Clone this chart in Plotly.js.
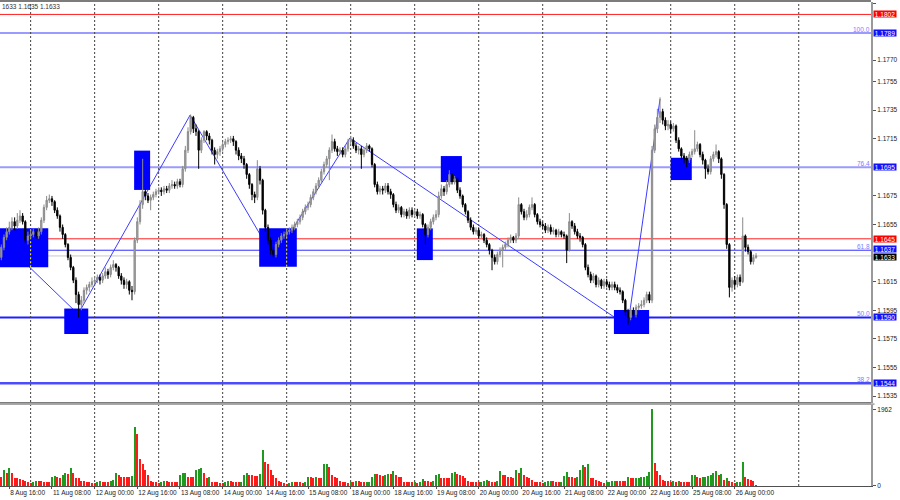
<!DOCTYPE html>
<html><head><meta charset="utf-8">
<script src="https://cdn.plot.ly/plotly-3.0.1.min.js"></script>
<style>html,body{margin:0;padding:0;background:#fff}#chart{width:900px;height:500px}</style>
</head><body><div id="chart"></div>
<script>
// EURUSD H1, bars from 8 Aug 13:00 (server time), weekends skipped.
// Prices stored in pips above BASE (1.1500).
const BASE = 1.15;
const firstBar = '2025-08-08T13:00';
const opens = [
132,139,146,150,153,157,154,158,161,157,144,
147,148,150,147,150,158,167,172,173,171,165,161,153,148,141,132,125,116,106,99,102,109,111,113,
115,116,118,116,119,122,120,125,127,125,119,116,113,115,109,108,144,157,169,178,175,172,174,176,
178,179,178,180,179,182,183,182,185,183,194,207,220,230,222,220,207,214,220,217,214,207,204,206,
208,211,213,214,215,213,207,203,201,197,190,183,176,174,194,186,165,153,144,137,134,141,144,147,
148,150,151,153,155,157,160,164,167,169,174,178,182,186,192,197,201,207,213,208,206,207,204,208,
213,214,210,207,208,204,207,210,208,197,183,178,180,179,182,178,176,169,165,167,162,164,161,165,
162,164,161,162,155,148,153,157,160,162,175,180,178,183,190,185,187,179,175,169,164,158,153,150,
151,147,148,144,141,137,132,129,134,137,139,141,144,146,144,147,169,164,160,162,167,169,162,157,
155,154,151,153,150,151,148,150,148,147,137,157,154,150,147,146,141,125,120,116,119,113,116,112,
115,113,111,113,111,109,108,102,94,90,95,92,97,98,99,102,106,102,207,222,230,234,228,224,
225,222,224,214,208,203,201,200,204,206,208,211,204,200,194,192,201,204,206,201,190,169,141,111,
116,113,118,115,147,139,136,129,132];
const highs = [
141,148,153,157,160,160,163,165,163,158,150,
151,152,152,153,160,169,175,176,175,172,167,162,155,149,142,134,126,118,108,105,111,113,115,118,
119,120,120,121,125,124,127,130,128,126,121,118,117,116,112,146,160,172,201,180,177,176,178,180,
181,181,182,182,184,186,185,187,187,196,210,223,232,231,225,221,216,221,221,219,215,209,208,210,
213,215,216,217,217,214,209,205,203,198,191,184,178,200,196,187,166,155,146,139,143,146,149,150,
152,153,155,157,159,162,166,169,171,176,180,184,188,194,199,203,209,218,215,210,209,209,210,215,
217,216,212,210,210,209,212,211,209,198,185,182,182,184,184,180,177,171,169,168,166,166,167,167,
166,166,164,163,156,155,159,162,165,178,183,182,186,193,191,189,188,181,176,170,165,160,155,153,
153,150,149,146,142,138,134,136,139,141,143,146,148,147,149,174,170,166,165,169,174,170,163,159,
157,156,155,155,153,152,152,151,150,148,163,158,156,152,149,147,142,127,122,121,120,118,117,117,
117,115,115,115,113,111,109,103,96,97,97,99,100,102,104,108,108,210,225,236,244,236,230,228,
227,226,225,216,209,205,203,206,208,221,213,212,206,201,197,203,206,211,207,202,191,170,142,118,
119,120,120,160,148,141,137,134,135];
const lows = [
130,137,144,148,151,151,152,156,155,142,141,
145,146,145,145,148,156,165,170,168,163,159,150,145,139,130,123,114,100,90,95,100,106,108,111,
113,114,113,114,117,117,118,123,122,117,113,110,110,106,102,106,142,155,166,172,170,165,172,174,
176,175,176,177,177,180,180,180,181,181,192,205,218,219,217,194,205,212,214,211,204,197,201,203,
206,209,211,212,210,204,200,198,194,187,180,172,170,172,183,162,150,141,134,132,132,139,142,145,
146,148,149,151,153,155,158,162,165,167,172,176,180,184,190,195,186,205,206,203,204,202,202,206,
211,208,205,204,194,202,205,206,195,181,176,176,176,177,176,173,167,163,163,160,160,159,159,160,
160,159,159,153,141,146,151,155,158,160,173,175,176,181,183,183,177,173,167,162,156,151,148,148,
145,145,142,139,134,123,127,127,132,125,137,139,142,142,142,145,162,158,158,160,165,160,155,153,
152,149,149,148,148,146,146,146,145,128,136,152,148,145,143,139,123,118,114,114,111,111,110,110,
111,109,109,109,107,106,100,91,85,88,89,90,95,96,97,100,100,100,205,219,226,225,221,221,
219,220,212,206,200,198,195,198,202,204,206,202,197,187,190,190,199,202,198,187,166,138,104,108,
110,111,112,114,136,134,127,127,131];
const closes = [
139,146,150,153,157,154,158,161,157,144,147,
148,150,147,150,158,167,172,173,171,165,161,153,148,141,132,125,116,106,99,102,109,111,113,115,
116,118,116,119,122,120,125,127,125,119,116,113,115,109,108,144,157,169,178,175,172,174,176,178,
179,178,180,179,182,183,182,185,183,194,207,220,230,222,220,207,214,220,217,214,207,204,206,208,
211,213,214,215,213,207,203,201,197,190,183,176,174,194,186,165,153,144,137,134,141,144,147,148,
150,151,153,155,157,160,164,167,169,174,178,182,186,192,197,201,207,213,208,206,207,204,208,213,
214,210,207,208,204,207,210,208,197,183,178,180,179,182,178,176,169,165,167,162,164,161,165,162,
164,161,162,155,148,153,157,160,162,175,180,178,183,190,185,187,179,175,169,164,158,153,150,151,
147,148,144,141,137,132,129,134,137,139,141,144,146,144,147,169,164,160,162,167,169,162,157,155,
154,151,153,150,151,148,150,148,147,137,157,154,150,147,146,141,125,120,116,119,113,116,112,115,
113,111,113,111,109,108,102,94,90,95,92,97,98,99,102,106,102,207,222,230,234,228,224,225,
222,224,214,208,203,201,200,204,206,208,211,204,200,194,192,201,204,206,201,190,169,141,111,116,
113,118,115,147,139,136,129,132,133];
const volumes = [
232,404,335,464,318,206,189,172,146,120,86,
52,86,120,120,120,100,100,90,232,240,225,200,275,335,290,447,318,189,185,120,115,86,80,60,
52,86,120,90,88,86,120,146,318,275,232,220,215,210,250,1522,1324,688,550,404,275,120,103,86,
77,86,120,120,90,88,86,86,275,318,335,232,225,220,404,420,446,318,206,232,103,90,86,60,
60,86,120,120,90,90,86,100,275,335,275,260,255,240,290,920,602,550,404,275,189,120,86,60,
35,70,103,90,88,86,60,86,232,232,200,215,189,185,550,560,490,275,232,189,120,86,80,75,
86,80,120,120,86,84,90,95,232,300,300,275,250,270,300,290,380,275,232,225,86,84,82,80,
86,70,86,172,120,120,103,120,260,290,206,206,206,206,330,340,290,275,250,189,120,86,86,86,
86,90,120,146,120,86,86,120,380,275,260,232,232,206,404,318,447,275,232,189,146,103,86,86,
70,86,120,125,118,103,86,90,250,347,232,225,206,232,404,533,490,550,206,189,146,120,86,70,
86,90,120,125,122,120,118,116,232,189,185,190,200,210,225,250,361,1962,576,380,275,146,120,110,
86,120,86,120,86,86,86,80,260,262,232,206,215,220,250,260,335,380,275,290,146,189,120,86,
70,86,90,602,232,172,146,120,20];

const tickLabels = ['8 Aug 16:00','11 Aug 08:00','12 Aug 00:00','12 Aug 16:00','13 Aug 08:00',
  '14 Aug 00:00','14 Aug 16:00','15 Aug 08:00','18 Aug 00:00','18 Aug 16:00','19 Aug 08:00',
  '20 Aug 00:00','20 Aug 16:00','21 Aug 08:00','22 Aug 00:00','22 Aug 16:00','25 Aug 08:00','26 Aug 00:00'];
const priceTicks = [1.1810,1.1770,1.1755,1.1735,1.1715,1.1675,1.1655,1.1615,1.1595,1.1575,1.1555,1.1535];
const volTicks = [0,1962];
const fibLevels = [1.1789,1.1695,1.1637,1.1590,1.1544];
const fibNames = ['100.0','76.4','61.8','50.0','38.2'];
const redLevels = [1.1802,1.1645];
const bidLevel = 1.1633;
const headerText = '1633 1.1635 1.1633';
// rectangles (bar index from first bar, price)
const boxStart  = [-6, 23.6, 49.8, 96.7, 155.8, 164.8, 229.7, 251];
const boxEnd    = [17.6, 32.6, 55.8, 110.8, 161.8, 172.7, 242.9, 258.9];
const boxTop    = [1.16523,1.15962,1.17067,1.16523,1.16523,1.17029,1.15952,1.17017];
const boxBottom = [1.16251,1.15784,1.16792,1.16255,1.16301,1.16847,1.15784,1.16861];
// zigzag turning points
const zzBar   = [4, 28.8, 70.8, 102.3, 130.7, 234.9, 247];
const zzPrice = [1.1637,1.15923,1.17316,1.16313,1.17155,1.15838,1.17428];

const MONTHS = ['Jan','Feb','Mar','Apr','May','Jun','Jul','Aug','Sep','Oct','Nov','Dec'];
function barTimes(n){
  const out=[]; let t=new Date(firstBar+':00Z');
  while(out.length<n){ const d=t.getUTCDay(); if(d!==0&&d!==6) out.push(new Date(t)); t=new Date(t.getTime()+3600000); }
  return out;
}
const fmt = t => t.getUTCDate()+' '+MONTHS[t.getUTCMonth()]+' '+String(t.getUTCHours()).padStart(2,'0')+':00';
const N = closes.length;
const allTimes = barTimes(N+60);
const allLabels = allTimes.map(fmt);
const idx = closes.map((_,i)=>i);
const px = v => BASE + v/10000;
const tickIdx = tickLabels.map(l => allLabels.indexOf(l));
const gridIdx = allTimes.map((t,i)=>(t.getUTCHours()===0 && i<=N+16)?i:null).filter(v=>v!==null);

const XR = [-0.49, 326.1];
const MAIN = [0.194, 0.996], VOL = [0.028, 0.19];

const volColors = volumes.map((v,i)=> (i>0 && v>volumes[i-1]) ? '#1f9a1f' : '#ff1a1a');

const traces = [
 {type:'candlestick', x:idx, open:opens.map(px), high:highs.map(px), low:lows.map(px), close:closes.map(px),
  increasing:{line:{color:'#8a8a8a',width:1}, fillcolor:'#a8a8a8'},
  decreasing:{line:{color:'#000000',width:1}, fillcolor:'#000000'},
  whiskerwidth:0, hoverinfo:'skip', xaxis:'x', yaxis:'y'},
 {type:'bar', x:idx, y:volumes, width:0.8, marker:{color:volColors, line:{width:0}}, hoverinfo:'skip', xaxis:'x2', yaxis:'y2'}
];

const shapes = [];
// zigzag
let p = 'M '+zzBar[0]+','+zzPrice[0];
for(let i=1;i<zzBar.length;i++) p += ' L '+zzBar[i]+','+zzPrice[i];
shapes.push({type:'path', path:p, xref:'x', yref:'y', line:{color:'#3c3cff', width:1}, layer:'below'});
// rectangles
for(let i=0;i<boxStart.length;i++)
  shapes.push({type:'rect', xref:'x', yref:'y', x0:boxStart[i], x1:boxEnd[i], y0:boxBottom[i], y1:boxTop[i], fillcolor:'#0000ff', line:{width:0}, layer:'below'});
// horizontal levels
const fibColor = ['#9a9aff','#9a9aff','#3030ff','#2020ff','#4c4cff'];
const fibWidth = [2,2,1,2,2.5];
fibLevels.forEach((v,i)=>shapes.push({type:'line', xref:'paper', yref:'y', x0:0, x1:1, y0:v, y1:v, line:{color:fibColor[i], width:fibWidth[i]}, layer:'below'}));
redLevels.forEach(v=>shapes.push({type:'line', xref:'paper', yref:'y', x0:0, x1:1, y0:v, y1:v, line:{color:'#ff2020', width:1}, layer:'below'}));
shapes.push({type:'line', xref:'paper', yref:'y', x0:0, x1:1, y0:bidLevel, y1:bidLevel, line:{color:'#c8c8c8', width:1}, layer:'below'});
// vertical dotted grid at day starts
gridIdx.forEach(g=>{
  shapes.push({type:'line', xref:'x', yref:'paper', x0:g, x1:g, y0:VOL[0], y1:MAIN[1], line:{color:'#404040', width:1, dash:'2px,2px'}, layer:'below'});
  for(let i=0;i<boxStart.length;i++) if(g>boxStart[i] && g<boxEnd[i])
    shapes.push({type:'line', xref:'x', yref:'y', x0:g, x1:g, y0:boxBottom[i], y1:boxTop[i], line:{color:'#ffff00', width:1, dash:'2px,2px'}, layer:'below'});
});
// frame
shapes.push({type:'line', xref:'paper', yref:'paper', x0:0, x1:1, y0:0.998, y1:0.998, line:{color:'#505050', width:1.5}, layer:'above'});
shapes.push({type:'rect', xref:'paper', yref:'paper', x0:0, x1:1.004, y0:0.19, y1:0.1935, fillcolor:'#a8a8a8', line:{width:0}, layer:'above'});
shapes.push({type:'line', xref:'paper', yref:'paper', x0:0, x1:1, y0:0.1945, y1:0.1945, line:{color:'#505050', width:1}, layer:'above'});

const annotations = [];
fibLevels.forEach((v,i)=>annotations.push({xref:'paper', yref:'y', x:1, y:v, xanchor:'right', yanchor:'bottom', yshift:-1,
  text:fibNames[i], showarrow:false, font:{size:6.5, color:'#7c7cff'}, borderpad:0}));
const tagList = [
  ...fibLevels.map(v=>({v, c:'#1010ff'})),
  ...redLevels.map(v=>({v, c:'#ff0000'})),
  {v:bidLevel, c:'#000000'}
];
tagList.forEach(t=>annotations.push({xref:'paper', yref:'y', x:1+2/871, y:t.v, xanchor:'left', yanchor:'middle',
  yshift: t.v===bidLevel ? -1 : (t.v===1.1637 ? 1 : 0),
  text:t.v.toFixed(4), showarrow:false, font:{size:6.5, color:'#ffffff'}, bgcolor:t.c, borderpad:0, width:22, height:6}));
annotations.push({xref:'paper', yref:'paper', x:0, y:(500-6.5)/500, xanchor:'left', yanchor:'middle',
  text:headerText, showarrow:false, font:{size:6.5, color:'#333'}});

const axFont = {family:'Liberation Sans, Arial, sans-serif', size:6.5, color:'#222'};
const layout = {
  width:900, height:500, margin:{l:0, r:29, t:0, b:0},
  paper_bgcolor:'#ffffff', plot_bgcolor:'#ffffff', showlegend:false,
  font:axFont, bargap:0,
  xaxis:{domain:[0,1], range:XR, anchor:'y', showticklabels:false, showgrid:false, zeroline:false, showline:false, ticks:'', rangeslider:{visible:false}, fixedrange:true},
  yaxis:{domain:MAIN, range:[1.15301,1.18107], side:'right', anchor:'x', tickvals:priceTicks, tickformat:'.4f',
    ticks:'outside', ticklen:3, tickcolor:'#555', showgrid:false, zeroline:false, showline:true, linecolor:'#999', linewidth:2, tickfont:axFont, fixedrange:true},
  xaxis2:{domain:[0,1], range:XR, anchor:'y2', tickvals:tickIdx, ticktext:tickLabels, tickangle:0, ticklabelposition:'outside right',
    ticks:'outside', ticklen:2, tickcolor:'#555', showgrid:false, zeroline:false, showline:true, linecolor:'#505050', tickfont:axFont, fixedrange:true},
  yaxis2:{domain:VOL, range:[-13,2078], side:'right', anchor:'x2', tickvals:volTicks, tickformat:'d',
    ticks:'outside', ticklen:3, tickcolor:'#555', showgrid:false, zeroline:false, showline:true, linecolor:'#999', linewidth:2, tickfont:axFont, fixedrange:true},
  shapes, annotations
};
Plotly.newPlot('chart', traces, layout, {displayModeBar:false, staticPlot:true});
</script>
</body></html>
